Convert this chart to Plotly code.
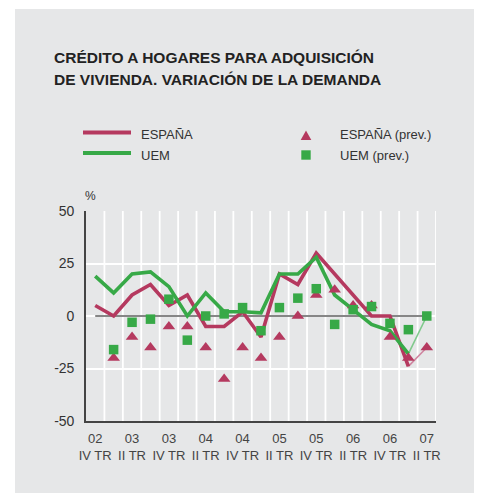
import plotly.graph_objects as go

# ---------------- data ----------------
quarters = ["02 IV TR", "03 I TR", "03 II TR", "03 III TR", "03 IV TR",
            "04 I TR", "04 II TR", "04 III TR", "04 IV TR",
            "05 I TR", "05 II TR", "05 III TR", "05 IV TR",
            "06 I TR", "06 II TR", "06 III TR", "06 IV TR",
            "07 I TR", "07 II TR"]
tick_quarters = quarters[::2]
tick_labels = ["02<br>IV TR", "03<br>II TR", "03<br>IV TR", "04<br>II TR", "04<br>IV TR",
               "05<br>II TR", "05<br>IV TR", "06<br>II TR", "06<br>IV TR", "07<br>II TR"]

espana = [5, 0, 10, 15, 5, 10, -5, -5, 2, -10, 20, 15, 30, 20, 10, 0, 0, -24, None]
uem = [19, 11, 20, 21, 14, 0, 11, 2, 2, 1.5, 20, 20, 28, 10, 3, -4, -7, -18, None]
espana_prev = [None, -20, -10, -15, -5, -5, -15, -30, -15, -20, -10, 0, 10, 12.5, 5, 5, -10, -20, -15]
uem_prev = [None, -16, -3, -1.5, 8, -11.5, 0, 1, 4, -7, 4, 8.5, 13, -4, 3, 4.5, -3.5, -6.5, 0]

y_ticks = [-50, -25, 0, 25, 50]
y_tick_labels = ["-50", "-25", "0", "25", "50"]

# ---------------- style ----------------
# the page body has an 8px margin, so the figure is drawn 8px right / down
OFF = 8
WIN_W, WIN_H = 482, 493
W, H = WIN_W - OFF, WIN_H - OFF
# plot area in window pixels: x 86..436, y 211..421
L, R, T, B = 86 - OFF, WIN_W - 436, 211 - OFF, WIN_H - 421
PW, PH = W - L - R, H - T - B
PANEL = "#e6e7e8"
RED = "#b5395f"
GREEN = "#37a947"
RED_LIGHT = "#cf86a0"
GREEN_LIGHT = "#80c98c"
TXT = "#333333"
FONT = "Liberation Sans, Arial, sans-serif"


def px(x):
    """window pixel x -> paper coordinate"""
    return (x - OFF - L) / PW


def py(y):
    """window pixel y -> paper coordinate"""
    return (H - B - (y - OFF)) / PH


fig = go.Figure()

last = len(quarters) - 1
# thin connectors from last actual value to forecast
fig.add_trace(go.Scatter(x=[quarters[last - 1], quarters[last]],
                         y=[espana[last - 1], espana_prev[last]],
                         mode="lines", line=dict(color=RED_LIGHT, width=1.6),
                         hoverinfo="skip", showlegend=False))
fig.add_trace(go.Scatter(x=[quarters[last - 1], quarters[last]],
                         y=[uem[last - 1], uem_prev[last]],
                         mode="lines", line=dict(color=GREEN_LIGHT, width=1.6),
                         hoverinfo="skip", showlegend=False))

fig.add_trace(go.Scatter(x=quarters, y=espana, mode="lines", name="ESPAÑA",
                         line=dict(color=RED, width=3.6), showlegend=False))
fig.add_trace(go.Scatter(x=quarters, y=uem, mode="lines", name="UEM",
                         line=dict(color=GREEN, width=3.6), showlegend=False))
fig.add_trace(go.Scatter(x=quarters, y=espana_prev, mode="markers", name="ESPAÑA (prev.)",
                         marker=dict(symbol="triangle-up", size=11, color=RED,
                                     line=dict(width=0)), showlegend=False))
fig.add_trace(go.Scatter(x=quarters, y=uem_prev, mode="markers", name="UEM (prev.)",
                         marker=dict(symbol="square", size=9.5, color=GREEN,
                                     line=dict(width=0)), showlegend=False))

shapes = []
# grey panel
shapes.append(dict(type="rect", xref="paper", yref="paper",
                   x0=px(15), x1=px(WIN_W + 2), y0=py(WIN_H + 2), y1=py(9),
                   fillcolor=PANEL, line=dict(width=0), layer="below"))
# vertical grid lines between quarters
for k in range(1, len(quarters) + 1):
    shapes.append(dict(type="line", xref="x", yref="paper",
                       x0=k - 0.5, x1=k - 0.5, y0=0, y1=1,
                       line=dict(color="white", width=1.8), layer="between"))
# zero line from first to last quarter
shapes.append(dict(type="line", xref="x", yref="y",
                   x0=0, x1=last, y0=0, y1=0,
                   line=dict(color="#5e5e5e", width=1.6), layer="between"))

# legend glyphs
shapes.append(dict(type="line", xref="paper", yref="paper",
                   x0=px(83), x1=px(131), y0=py(132.5), y1=py(132.5),
                   line=dict(color=RED, width=4)))
shapes.append(dict(type="line", xref="paper", yref="paper",
                   x0=px(83), x1=px(131), y0=py(153), y1=py(153),
                   line=dict(color=GREEN, width=4)))
shapes.append(dict(type="path", xref="paper", yref="paper",
                   path="M {} {} L {} {} L {} {} Z".format(px(300.7), py(140), px(311.3), py(140), px(306), py(130.5)),
                   fillcolor=RED, line=dict(width=0)))
shapes.append(dict(type="rect", xref="paper", yref="paper",
                   x0=px(301.3), x1=px(310.7), y0=py(159.7), y1=py(150.3),
                   fillcolor=GREEN, line=dict(width=0)))

annotations = []
annotations.append(dict(xref="paper", yref="paper", x=px(52), y=py(58),
                        xanchor="left", yanchor="middle", showarrow=False,
                        text="CRÉDITO A HOGARES PARA ADQUISICIÓN",
                        font=dict(family=FONT, size=15.5, color="#222222", weight="bold")))
annotations.append(dict(xref="paper", yref="paper", x=px(52), y=py(79),
                        xanchor="left", yanchor="middle", showarrow=False,
                        text="DE VIVIENDA. VARIACIÓN DE LA DEMANDA",
                        font=dict(family=FONT, size=15.5, color="#222222", weight="bold")))
for text, x, y in [("ESPAÑA", 139, 134.5), ("UEM", 139, 155),
                   ("ESPAÑA (prev.)", 338, 134.5), ("UEM (prev.)", 338, 155)]:
    annotations.append(dict(xref="paper", yref="paper", x=px(x), y=py(y),
                            xanchor="left", yanchor="middle", showarrow=False,
                            text=text, font=dict(family=FONT, size=13, color=TXT)))
annotations.append(dict(xref="paper", yref="paper", x=px(83), y=py(196),
                        xanchor="left", yanchor="middle", showarrow=False,
                        text="%", font=dict(family=FONT, size=12, color=TXT)))

fig.update_layout(
    width=W, height=H,
    margin=dict(l=L, r=R, t=T, b=B, pad=0),
    paper_bgcolor="white", plot_bgcolor=PANEL,
    shapes=shapes, annotations=annotations,
    font=dict(family=FONT, color=TXT),
    xaxis=dict(type="category", categoryorder="array", categoryarray=quarters,
               range=[-0.5, last + 0.5], showgrid=False, zeroline=False,
               tickmode="array", tickvals=tick_quarters, ticktext=tick_labels,
               ticks="", tickfont=dict(size=13, color="#444444"),
               showline=True, linecolor="#444444", linewidth=1.6,
               ticklabelstandoff=5, fixedrange=True),
    yaxis=dict(range=[-50, 50], tickmode="array", tickvals=y_ticks,
               ticktext=y_tick_labels,
               showgrid=True, gridcolor="white", gridwidth=1.8, zeroline=False,
               ticks="", tickfont=dict(size=14, color=TXT),
               showline=True, linecolor="#444444", linewidth=1.6,
               ticklabelstandoff=7, fixedrange=True),
    showlegend=False,
)

fig.write_html("out.html")
